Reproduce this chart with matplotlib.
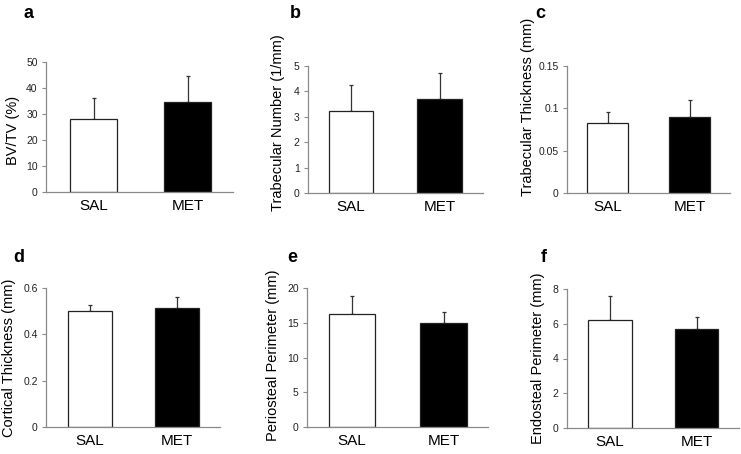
import numpy as np
import matplotlib.pyplot as plt

plt.rcParams["font.family"] = ["Liberation Sans", "DejaVu Sans"]

groups = ["SAL", "MET"]
panel_letters = ["a", "b", "c", "d", "e", "f"]
ylabels = [
    "BV/TV (%)",
    "Trabecular Number (1/mm)",
    "Trabecular Thickness (mm)",
    "Cortical Thickness (mm)",
    "Periosteal Perimeter (mm)",
    "Endosteal Perimeter (mm)",
]
means = [
    [28.2, 34.7],
    [3.22, 3.70],
    [0.083, 0.090],
    [0.500, 0.512],
    [16.2, 15.0],
    [6.2, 5.7],
]
errors = [
    [8.0, 9.9],
    [1.03, 1.02],
    [0.013, 0.020],
    [0.025, 0.050],
    [2.6, 1.5],
    [1.4, 0.7],
]
ymax = [50, 5, 0.15, 0.6, 20, 8]
ystep = [10, 1, 0.05, 0.2, 5, 2]
yticklabels = [
    ["0", "10", "20", "30", "40", "50"],
    ["0", "1", "2", "3", "4", "5"],
    ["0", "0.05", "0.1", "0.15"],
    ["0", "0.2", "0.4", "0.6"],
    ["0", "5", "10", "15", "20"],
    ["0", "2", "4", "6", "8"],
]

W, H = 741, 454
# pixel layout: axes left, right, top, bottom, SAL bar (x0, x1), MET bar (x0, x1)
boxes = [
    (46, 233, 62, 192, (70, 117), (164, 211)),
    (308, 483, 66, 193, (329, 373), (417, 462)),
    (567, 730, 66, 193, (587, 628), (669, 710)),
    (46, 220, 288, 427, (68, 112), (155, 199)),
    (307, 488, 288, 427, (329, 375), (420, 467)),
    (567, 739, 289, 428, (588, 632), (675, 718)),
]
# y label centre (x, y) and panel letter position in pixels
label_pos = [(13, 130), (278, 123), (528, 107), (9, 358), (273, 355), (538, 358)]
letter_pos = [(29, 13), (295, 13), (540, 13), (19, 257), (292, 257), (544, 257)]

fig = plt.figure(figsize=(W / 100, H / 100), dpi=100)
gray = "#8a8a8a"

for i in range(6):
    l, r, t, b, s, m = boxes[i]
    ax = fig.add_axes([l / W, 1 - b / H, (r - l) / W, (b - t) / H])
    c0 = (s[0] + s[1]) / 2
    c1 = (m[0] + m[1]) / 2
    unit = c1 - c0
    width = ((s[1] - s[0]) + (m[1] - m[0])) / 2 / unit
    ax.set_xlim((l - c0) / unit, (r - c0) / unit)
    ax.set_ylim(0, ymax[i])

    x = np.arange(len(groups))
    ax.bar(x, means[i], width=width, color=["white", "black"],
           edgecolor="#222222", linewidth=0.9, zorder=2)
    ax.errorbar(x, means[i], yerr=[[0, 0], errors[i]], fmt="none",
                ecolor="#333333", elinewidth=0.9, capsize=1.6, capthick=0.9,
                zorder=1)

    ax.set_yticks(np.arange(len(yticklabels[i])) * ystep[i])
    ax.set_yticklabels(yticklabels[i])
    ax.set_xticks(x)
    ax.set_xticklabels(groups, fontsize=11)
    ax.tick_params(axis="x", length=0, pad=5)
    ax.tick_params(axis="y", length=3, width=0.8, color=gray,
                   labelsize=7.5, pad=3, labelcolor="#222222")
    for side in ["top", "right"]:
        ax.spines[side].set_visible(False)
    for side in ["left", "bottom"]:
        ax.spines[side].set_color(gray)
        ax.spines[side].set_linewidth(0.9)

    ax.set_ylabel(ylabels[i], fontsize=10.5, va="center")
    lx, ly = label_pos[i]
    ax.yaxis.set_label_coords(lx / W, 1 - ly / H, transform=fig.transFigure)

    px, py = letter_pos[i]
    fig.text(px / W, 1 - py / H, panel_letters[i], fontsize=13,
             fontweight="bold", ha="center", va="center")

plt.savefig("out.png", dpi=100)
